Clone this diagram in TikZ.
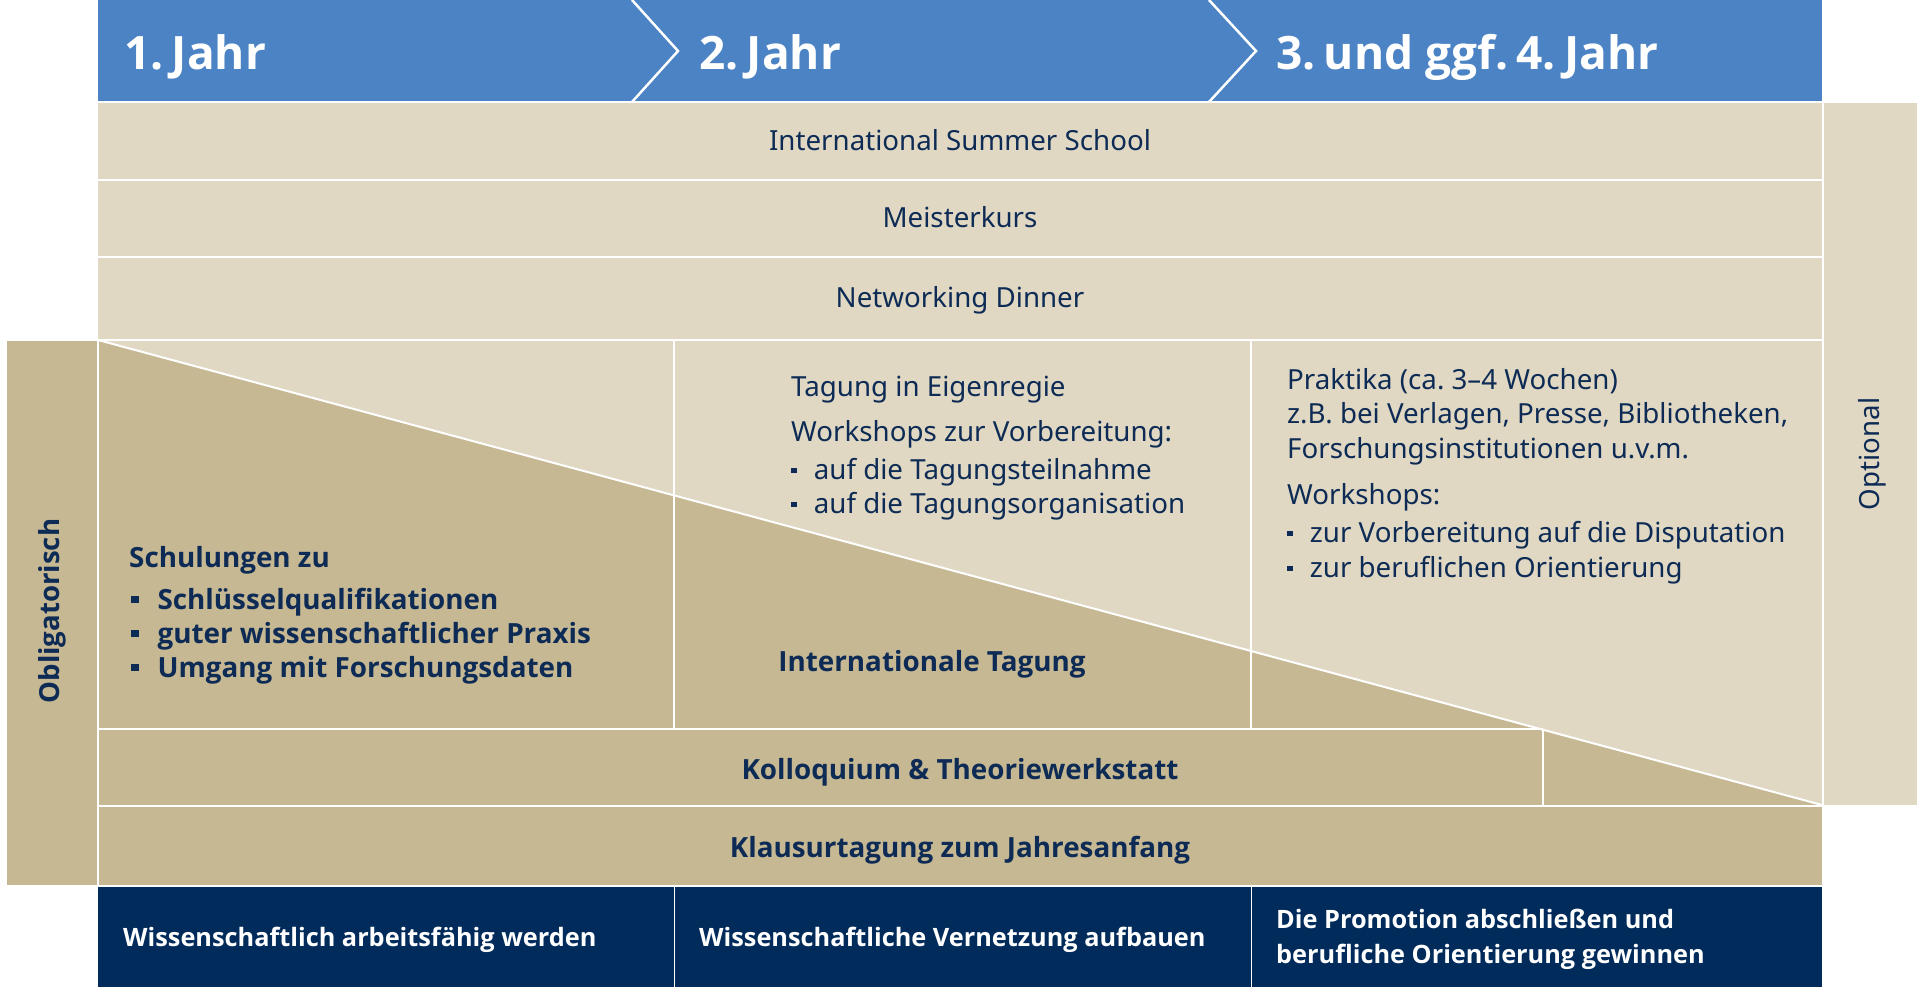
\documentclass[tikz,border=0pt]{standalone}
\usepackage{fontspec}
\setmainfont{Noto Sans}
\newfontfamily\headfont{Open Sans}
\definecolor{hblue}{HTML}{4B83C4}
\definecolor{lbeige}{HTML}{E0D8C3}
\definecolor{dbeige}{HTML}{C7B894}
\definecolor{navy}{HTML}{002B5B}
\definecolor{tnavy}{HTML}{0D2B55}
\newcommand\rbul{\raisebox{0.2em}{\rule{0.2em}{0.2em}}\hspace{0.62em}}
\newcommand\bbul{\raisebox{0.2em}{\rule{0.27em}{0.27em}}\hspace{0.68em}}
\tikzset{
  txt/.style={text=tnavy, font=\fontsize{27.7}{32}\selectfont, inner sep=0pt},
  btxt/.style={text=tnavy, font=\headfont\fontsize{27.8}{32}\selectfont\bfseries, inner sep=0pt},
  htxt/.style={text=white, font=\headfont\fontsize{46}{50}\selectfont\bfseries, inner sep=0pt, anchor=base west},
  wtxt/.style={text=white, font=\headfont\fontsize{25.3}{30}\selectfont\bfseries, inner sep=0pt, anchor=base west},
  sepline/.style={draw=white, line width=2pt},
  chev/.style={draw=white, line width=2.5pt}
}
\begin{document}
\begin{tikzpicture}[x=1pt,y=-1pt]
\useasboundingbox (0,0) rectangle (1920,987);
% fills
\fill[hblue] (98,0) rectangle (1822,102);
\fill[lbeige] (98,102) rectangle (1822,805);
\fill[lbeige] (1823,102) rectangle (1917,805);
\fill[dbeige] (98,340) -- (1822,805) -- (98,805) -- cycle;
\fill[dbeige] (98,805) rectangle (1822,885);
\fill[dbeige] (7,340) rectangle (97,885);
\fill[navy] (98,885) rectangle (1822,987);
% chevrons
\draw[chev] (632,0) -- (678,51) -- (632,102);
\draw[chev] (1209,0) -- (1256,51) -- (1209,102);
% separators
\draw[sepline] (98,102.5) -- (1917,102.5);
\draw[sepline] (98,180.5) -- (1822,180.5);
\draw[sepline] (98,257.5) -- (1822,257.5);
\draw[sepline] (7,340) -- (1822,340);
\draw[sepline] (98,728.5) -- (1543,728.5);
\draw[sepline] (98,805.5) -- (1917,805.5);
\draw[sepline] (7,885.5) -- (1822,885.5);
\draw[sepline] (674,340) -- (674,728.5);
\draw[sepline] (1251,340) -- (1251,728.5);
\draw[sepline] (1543,728.5) -- (1543,805.5);
\draw[sepline] (97.5,340) -- (97.5,885.5);
\draw[sepline] (1822.5,102) -- (1822.5,805.5);
\draw[sepline] (98,340) -- (1822,805);
\draw[draw=white, line width=1pt] (674,886) -- (674,987);
\draw[draw=white, line width=1pt] (1251,886) -- (1251,987);
% header
\node[htxt] (h1) at (124,70) {1.\kern0.18em Jahr};
\node[htxt] (h2) at (699,70) {2.\kern0.18em Jahr};
\node[htxt] (h3) at (1276,70) {3.\kern0.18em und ggf.\kern0.18em 4.\kern0.18em Jahr};
% optional rows
\node[txt, anchor=base] (iss) at (960,151) {International Summer School};
\node[txt, anchor=base] (mk) at (960,228) {Meisterkurs};
\node[txt, anchor=base] (nd) at (960,307) {Networking Dinner};
% year 2 block
\node[txt, anchor=base west] (t1) at (791,396) {Tagung in Eigenregie};
\node[txt, anchor=base west] (t2) at (791,441) {Workshops zur Vorbereitung:};
\node[txt, anchor=base west] (t3) at (791,479) {\rbul auf die Tagungsteilnahme};
\node[txt, anchor=base west] (t4) at (791,513) {\rbul auf die Tagungsorganisation};
% year 3 block
\node[txt, anchor=base west] (p1) at (1287,389) {Praktika (ca.\ 3–4 Wochen)};
\node[txt, anchor=base west] (p2) at (1287,423) {z.B. bei Verlagen, Presse, Bibliotheken,};
\node[txt, anchor=base west] (p3) at (1287,458) {Forschungsinstitutionen u.v.m.};
\node[txt, anchor=base west] (p4) at (1287,504) {Workshops:};
\node[txt, anchor=base west] (p5) at (1287,542) {\rbul zur Vorbereitung auf die Disputation};
\node[txt, anchor=base west] (p6) at (1287,577) {\rbul zur beruflichen Orientierung};
% year 1 block
\node[btxt, anchor=base west] (s1) at (129,567) {Schulungen zu};
\node[btxt, anchor=base west] (s2) at (131,609) {\bbul Schlüsselqualifikationen};
\node[btxt, anchor=base west] (s3) at (131,643) {\bbul guter wissenschaftlicher Praxis};
\node[btxt, anchor=base west] (s4) at (131,677) {\bbul Umgang mit Forschungsdaten};
\node[btxt, anchor=base] (it) at (932,671) {Internationale Tagung};
\node[btxt, anchor=base] (ko) at (960,779) {Kolloquium \& Theoriewerkstatt};
\node[btxt, anchor=base] (kl) at (960,857) {Klausurtagung zum Jahresanfang};
% side labels
\node[btxt, font=\headfont\fontsize{27.6}{30}\selectfont\bfseries, rotate=90] (obl) at (52,611) {Obligatorisch};
\node[txt, rotate=90] (opt) at (1872,454) {Optional};
% bottom goals
\node[wtxt] (g1) at (123,946) {Wissenschaftlich arbeitsfähig werden};
\node[wtxt] (g2) at (699,946) {Wissenschaftliche Vernetzung aufbauen};
\node[wtxt] (g3) at (1276,928) {Die Promotion abschließen und};
\node[wtxt] (g4) at (1276,963) {berufliche Orientierung gewinnen};
\end{tikzpicture}
\end{document}
